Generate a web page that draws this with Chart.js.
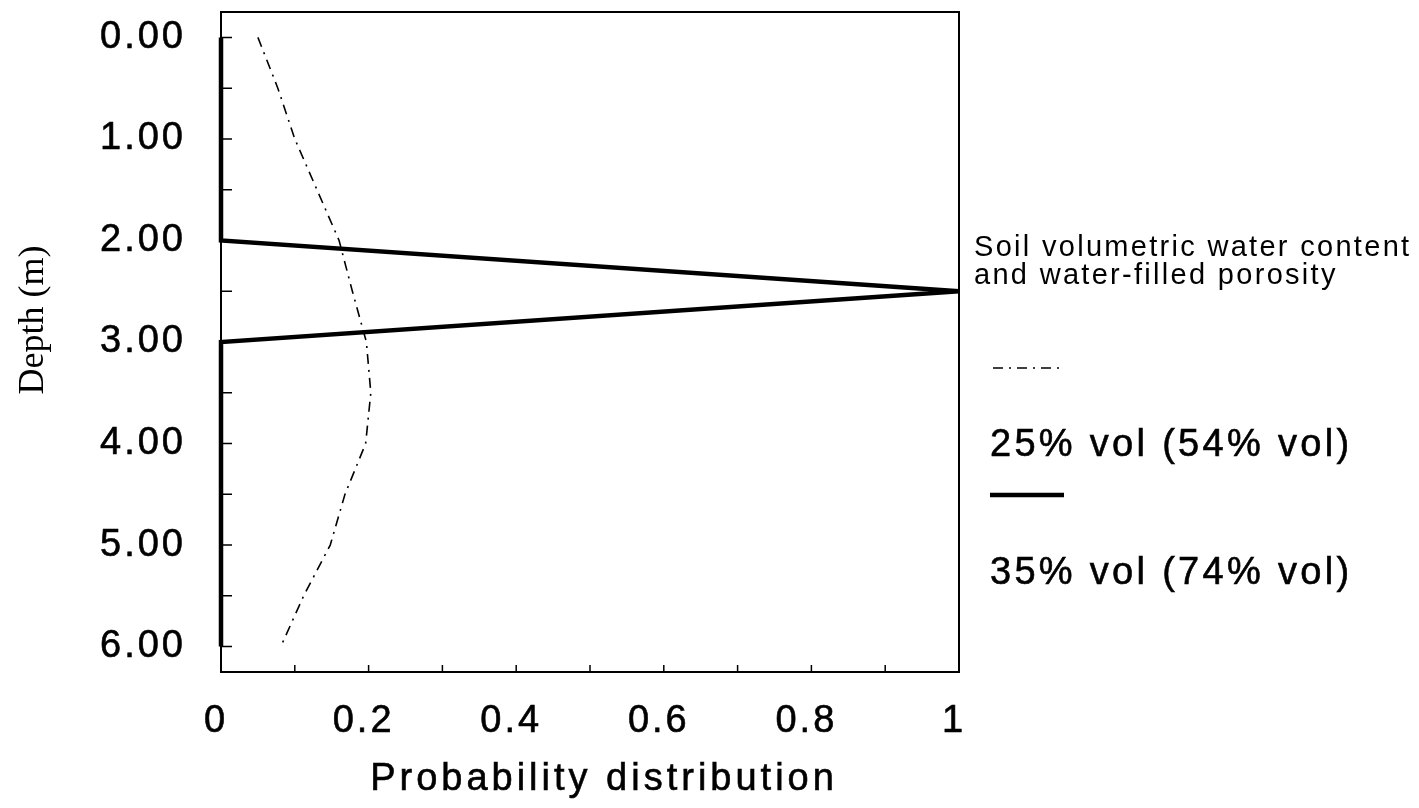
<!DOCTYPE html>
<html>
<head>
<meta charset="utf-8">
<script src="https://cdn.jsdelivr.net/npm/chart.js@4.4.1/dist/chart.umd.min.js"></script>
<style>
  html, body { margin: 0; padding: 0; background: #fff; }
  #wrap { width: 1419px; height: 808px; }
</style>
</head>
<body>
<div id="wrap"><canvas id="depthChart" width="1419" height="808"></canvas></div>
<script>
// depth (m) ticks every 0.5, labelled on whole metres
const DEPTH_TICKS = [0, 0.5, 1, 1.5, 2, 2.5, 3, 3.5, 4, 4.5, 5, 5.5, 6];
const PROB_TICKS  = [0, 0.1, 0.2, 0.3, 0.4, 0.5, 0.6, 0.7, 0.8, 0.9, 1];

// 25% vol (54% vol) - dash-dot curve
const depth25 = [0, 0.5, 1, 1.5, 2, 2.5, 3, 3.5, 4, 4.5, 5, 5.5, 6];
const prob25  = [0.05, 0.077, 0.10, 0.13, 0.16, 0.178, 0.197, 0.203, 0.196, 0.168, 0.148, 0.112, 0.081];

// 35% vol (74% vol) - solid line
const depth35 = [0, 2, 2.5, 3, 6];
const prob35  = [0, 0, 1, 0, 0];

const LEGEND_TITLE = ['Soil volumetric water content', 'and water-filled porosity'];
const SERIES_NAMES = ['25% vol (54% vol)', '35% vol (74% vol)'];

const DASH = [10, 6, 2, 6];
const FONT = '"Liberation Sans", Arial, sans-serif';

const toPts = (ys, xs) => ys.map((y, i) => ({ x: xs[i], y }));

const noPad = s => { s.paddingTop = 0; s.paddingBottom = 0; s.paddingLeft = 0; s.paddingRight = 0; };

// fill + thin stroke so the text is as dark as the scanned original
function ink(ctx, txt, x, y) {
    ctx.fillText(txt, x, y);
    ctx.strokeText(txt, x, y);
}

const extras = {
    id: 'extras',
    beforeDraw(chart) {
        chart.ctx.letterSpacing = '3px';
    },
    afterDraw(chart) {
        const { ctx, chartArea: a, scales: { x, y } } = chart;
        ctx.save();
        ctx.strokeStyle = '#000';
        // frame
        ctx.lineWidth = 2;
        ctx.strokeRect(a.left, a.top, a.right - a.left, a.bottom - a.top);
        // inside tick marks
        ctx.lineWidth = 1.5;
        ctx.beginPath();
        y.ticks.forEach(t => {
            const py = y.getPixelForValue(t.value);
            ctx.moveTo(a.left, py); ctx.lineTo(a.left + 11, py);
        });
        x.ticks.forEach(t => {
            const px = x.getPixelForValue(t.value);
            ctx.moveTo(px, a.bottom); ctx.lineTo(px, a.bottom - 7);
        });
        ctx.stroke();

        ctx.fillStyle = '#000';
        ctx.textBaseline = 'alphabetic';
        ctx.lineWidth = 0.6;
        // x title
        ctx.letterSpacing = '4px';
        ctx.font = '38px ' + FONT;
        ctx.textAlign = 'center';
        ink(ctx, 'Probability distribution', 604, 790);

        // y title (serif, rotated)
        ctx.letterSpacing = '0px';
        ctx.save();
        ctx.translate(43, 320);
        ctx.rotate(-Math.PI / 2);
        ctx.font = '36px "Liberation Serif", "Times New Roman", serif';
        ctx.fillText('Depth (m)', 0, 0);
        ctx.restore();

        // legend
        ctx.textAlign = 'left';
        ctx.letterSpacing = '2.3px';
        ctx.font = '29px ' + FONT;
        ctx.fillText(LEGEND_TITLE[0], 974, 256);
        ctx.fillText(LEGEND_TITLE[1], 974, 284);

        const ds = chart.data.datasets;
        ctx.strokeStyle = ds[0].borderColor;
        ctx.lineWidth = ds[0].borderWidth;
        ctx.setLineDash(ds[0].borderDash);
        ctx.beginPath(); ctx.moveTo(993, 368); ctx.lineTo(1062, 368); ctx.stroke();
        ctx.setLineDash([]);
        ctx.strokeStyle = ds[1].borderColor;
        ctx.lineWidth = ds[1].borderWidth;
        ctx.beginPath(); ctx.moveTo(990, 495); ctx.lineTo(1064, 495); ctx.stroke();

        ctx.lineWidth = 0.6;
        ctx.letterSpacing = '3.3px';
        ctx.font = '38px ' + FONT;
        ink(ctx, SERIES_NAMES[0], 990, 456);
        ink(ctx, SERIES_NAMES[1], 990, 584);
        ctx.restore();
    }
};

const tickFont = { family: FONT, size: 38 };

new Chart(document.getElementById('depthChart'), {
    type: 'scatter',
    data: {
        datasets: [
            {
                label: SERIES_NAMES[0],
                data: toPts(depth25, prob25),
                showLine: true,
                borderColor: '#000',
                borderWidth: 1.6,
                borderDash: DASH,
                pointRadius: 0,
                tension: 0,
                clip: false
            },
            {
                label: SERIES_NAMES[1],
                data: toPts(depth35, prob35),
                showLine: true,
                borderColor: '#000',
                borderWidth: 4.5,
                pointRadius: 0,
                tension: 0,
                clip: false
            }
        ]
    },
    options: {
        responsive: false,
        animation: false,
        layout: { autoPadding: false, padding: { top: 12, right: 460, left: 0, bottom: 0 } },
        plugins: { legend: { display: false }, tooltip: { enabled: false } },
        scales: {
            x: {
                type: 'linear',
                min: 0, max: 1,
                afterFit: s => { s.height = 136; noPad(s); },
                afterBuildTicks: s => { s.ticks = PROB_TICKS.map(v => ({ value: v })); },
                grid: { display: false, drawTicks: false },
                border: { display: false },
                ticks: {
                    autoSkip: false, maxRotation: 0, padding: 27, labelOffset: -5,
                    color: '#000', font: tickFont, textStrokeColor: '#000', textStrokeWidth: 0.6,
                    callback: v => (Math.round(v * 10) % 2 === 0 ? String(+v.toFixed(1)) : '')
                }
            },
            y: {
                type: 'linear',
                reverse: true,
                min: -0.25, max: 6.25,
                afterFit: s => { s.width = 221; noPad(s); },
                afterBuildTicks: s => { s.ticks = DEPTH_TICKS.map(v => ({ value: v })); },
                grid: { display: false, drawTicks: false },
                border: { display: false },
                ticks: {
                    autoSkip: false, padding: 35,
                    color: '#000', font: tickFont, textStrokeColor: '#000', textStrokeWidth: 0.6,
                    callback: v => (Number.isInteger(v) ? v.toFixed(2) : '')
                }
            }
        }
    },
    plugins: [extras]
});
</script>
</body>
</html>
